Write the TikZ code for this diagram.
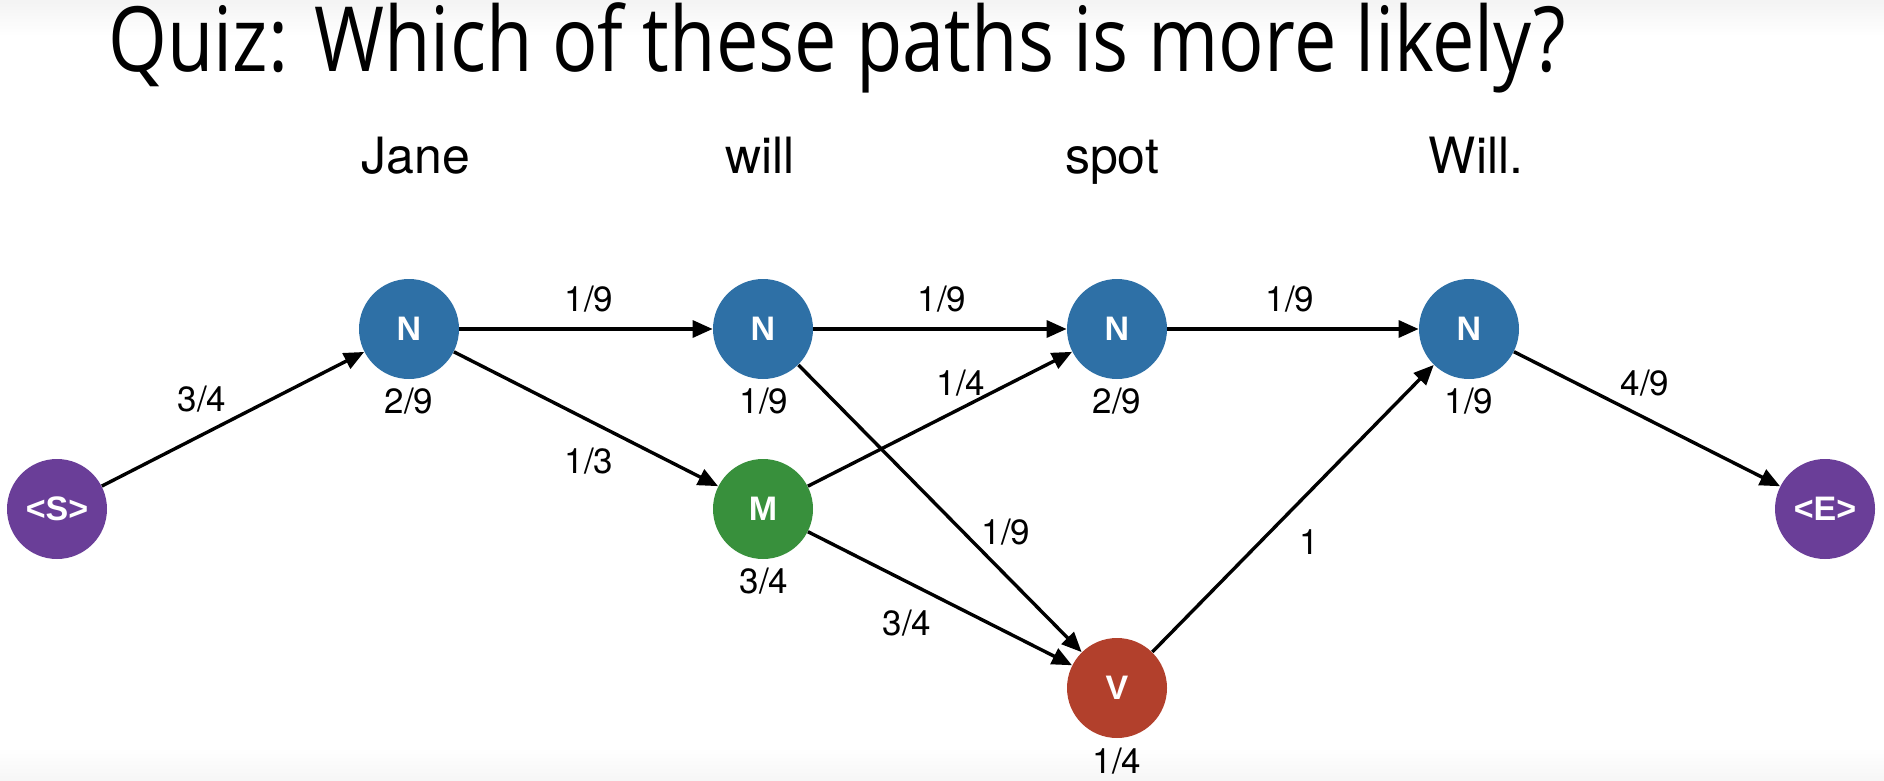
\documentclass[tikz,border=0pt]{standalone}
\usepackage{fontspec}
\setmainfont{TeX Gyre Heros}
\newfontfamily\titlefont{Open Sans}
\newfontfamily\statefont{Liberation Sans}
\usetikzlibrary{arrows.meta}
\definecolor{nblue}{RGB}{46,112,166}
\definecolor{mgreen}{RGB}{56,144,60}
\definecolor{vred}{RGB}{178,64,44}
\definecolor{spurple}{RGB}{106,62,152}
\begin{document}
\begin{tikzpicture}[x=0.5pt,y=-0.5pt,
  state/.style={circle,minimum size=50pt,inner sep=0pt,text=white,
    font=\statefont\fontsize{17}{18}\selectfont\bfseries},
  prob/.style={font=\fontsize{17.5}{20}\selectfont,inner sep=0pt},
  word/.style={font=\fontsize{25}{28}\selectfont,inner sep=0pt,anchor=base},
  link/.style={line width=1.7pt,-{Triangle[length=10pt,width=8.5pt]}}]
  \useasboundingbox (0,0) rectangle (1884,781);
  % soft page shading at top and bottom
  \shade[top color=gray!9,bottom color=white] (0,0) rectangle (1884,36);
  \shade[top color=white,bottom color=gray!7] (0,748) rectangle (1884,781);

  % title
  \node[anchor=base west,inner sep=0pt] (title) at (108,72)
    {\titlefont\fontsize{45}{48}\selectfont\scalebox{0.84}[1]{Quiz: Which of these paths is more likely?}};

  % sentence words
  \node[word] (w1) at (416,173) {Jane};
  \node[word] (w2) at (760,173) {will};
  \node[word] (w3) at (1112,173) {spot};
  \node[word] (w4) at (1476,173) {Will.};

  % states
  \node[state,fill=spurple] (S) at (57,509) {<S>};
  \node[state,fill=nblue] (N1) at (409,329) {N};
  \node[state,fill=nblue] (N2) at (763,329) {N};
  \node[state,fill=nblue] (N3) at (1117,329) {N};
  \node[state,fill=nblue] (N4) at (1469,329) {N};
  \node[state,fill=mgreen] (M) at (763,509) {M};
  \node[state,fill=vred] (V) at (1117,688) {V};
  \node[state,fill=spurple] (E) at (1825,509) {<E>};

  % emission probabilities
  \node[prob] (e1) at (409,401) {2/9};
  \node[prob] (e2) at (764,401) {1/9};
  \node[prob] (e3) at (1117,401) {2/9};
  \node[prob] (e4) at (1469,401) {1/9};
  \node[prob] (e5) at (764,581) {3/4};
  \node[prob] (e6) at (1117,761) {1/4};

  % transitions
  \draw[link] (S) -- (N1);
  \draw[link] (N1) -- (N2);
  \draw[link] (N1) -- (M);
  \draw[link] (N2) -- (N3);
  \draw[link] (N2) -- (V);
  \draw[link] (M) -- (N3);
  \draw[link] (M) -- (V);
  \draw[link] (N3) -- (N4);
  \draw[link] (V) -- (N4);
  \draw[link] (N4) -- (E);

  % transition probabilities
  \node[prob] (t1) at (202,399) {3/4};
  \node[prob] (t2) at (589,299) {1/9};
  \node[prob] (t3) at (589,461) {1/3};
  \node[prob] (t4) at (942,299) {1/9};
  \node[prob] (t5) at (1006,532) {1/9};
  \node[prob] (t6) at (961,383) {1/4};
  \node[prob] (t7) at (907,623) {3/4};
  \node[prob] (t8) at (1290,299) {1/9};
  \node[prob] (t9) at (1309,542) {1};
  \node[prob] (t10) at (1645,383) {4/9};
\end{tikzpicture}
\end{document}
